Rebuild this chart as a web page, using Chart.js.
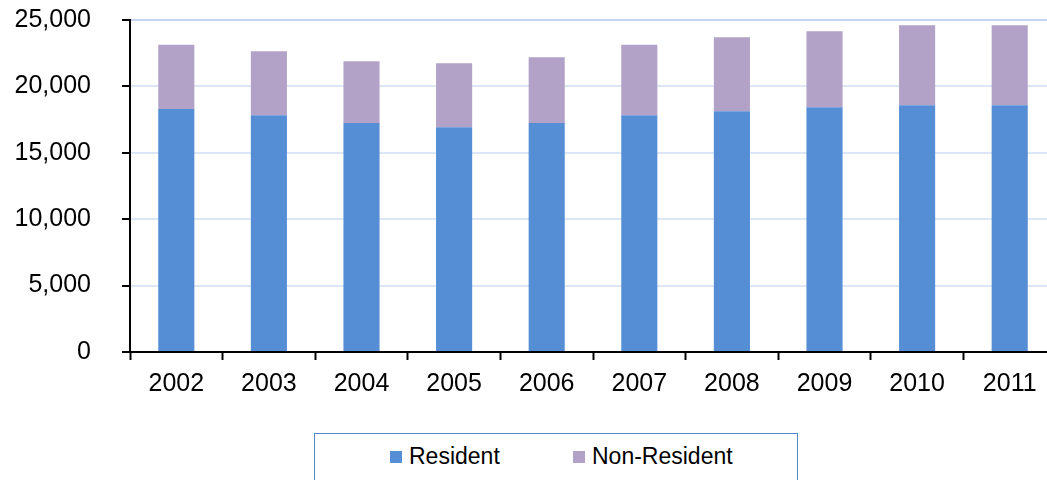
<!DOCTYPE html>
<html>
<head>
<meta charset="utf-8">
<script src="https://cdn.jsdelivr.net/npm/chart.js@4/dist/chart.umd.min.js"></script>
<style>
    html, body { margin: 0; padding: 0; background: #fff; overflow: hidden; }
    #wrap { position: relative; width: 1047px; height: 480px; overflow: hidden; }
    #myChart { position: absolute; left: 0; top: 0; }
    #legendBox {
        position: absolute; left: 314px; top: 433px; width: 482px; height: 60px;
        border: 1.5px solid #5a87c5; background: #fff;
        font-family: 'Liberation Sans', Arial, sans-serif; font-size: 23px; color: #000;
    }
    .swatch { position: absolute; top: 17px; width: 12px; height: 12px; }
    .lbl { position: absolute; top: 11px; line-height: 23px; white-space: nowrap; }
</style>
</head>
<body>
<div id="wrap">
    <canvas id="myChart" width="1056" height="480"></canvas>
    <div id="legendBox"></div>
</div>
<script>
    const years = ['2002', '2003', '2004', '2005', '2006', '2007', '2008', '2009', '2010', '2011'];
    const resident = [18300, 17820, 17250, 16920, 17250, 17820, 18120, 18430, 18580, 18580];
    const nonResident = [4830, 4830, 4650, 4820, 4950, 5310, 5580, 5730, 6020, 6020];
    const yTicks = [0, 5000, 10000, 15000, 20000, 25000];

    const seriesNames = ['Resident', 'Non-Resident'];
    const seriesColors = ['#558ed5', '#b3a2c7'];

    function chart(){
        const ctx = document.getElementById('myChart');
        new Chart(ctx, {
            type: 'bar',
            data: {
                labels: years,
                datasets: [{
                    label: seriesNames[0],
                    data: resident,
                    backgroundColor: seriesColors[0],
                    borderWidth: 0
                }, {
                    label: seriesNames[1],
                    data: nonResident,
                    backgroundColor: seriesColors[1],
                    borderWidth: 0
                }]
            },
            options: {
                responsive: false,
                animation: false,
                devicePixelRatio: 1,
                categoryPercentage: 1,
                barPercentage: 0.39,
                layout: { padding: { top: 20, right: 0, bottom: 80, left: 0 } },
                plugins: {
                    legend: { display: false },
                    tooltip: { enabled: false }
                },
                scales: {
                    x: {
                        stacked: true,
                        afterFit: function(scale){
                            scale.height = 48;
                            scale.paddingLeft = 0;
                            scale.paddingRight = 0;
                        },
                        border: { display: true, color: '#000', width: 2 },
                        grid: {
                            offset: true,
                            drawOnChartArea: false,
                            drawTicks: true,
                            tickLength: 8,
                            tickColor: '#000',
                            tickWidth: 2
                        },
                        ticks: {
                            color: '#000',
                            padding: 9,
                            font: { family: "'Liberation Sans', Arial, sans-serif", size: 25 }
                        }
                    },
                    y: {
                        stacked: true,
                        min: yTicks[0],
                        max: yTicks[yTicks.length - 1],
                        afterFit: function(scale){
                            scale.width = 130;
                            scale.paddingTop = 0;
                            scale.paddingBottom = 0;
                        },
                        afterBuildTicks: function(scale){
                            scale.ticks = yTicks.map(v => ({ value: v }));
                        },
                        border: { display: true, color: '#000', width: 2 },
                        grid: {
                            color: function(c){ return c.tick && c.tick.value === 25000 ? '#c5d4ef' : '#dde6f6'; },
                            lineWidth: 2,
                            drawTicks: true,
                            tickLength: 8,
                            tickColor: '#000',
                            tickWidth: 2
                        },
                        ticks: {
                            color: '#000',
                            padding: 31,
                            font: { family: "'Liberation Sans', Arial, sans-serif", size: 25 },
                            callback: function(v){ return Number(v).toLocaleString('en-US'); }
                        }
                    }
                }
            }
        });
    }

    function legend(){
        const box = document.getElementById('legendBox');
        const offsets = [75, 258];
        seriesNames.forEach(function(name, i){
            const sw = document.createElement('div');
            sw.className = 'swatch';
            sw.style.left = offsets[i] + 'px';
            sw.style.background = seriesColors[i];
            box.appendChild(sw);
            const t = document.createElement('span');
            t.className = 'lbl';
            t.style.left = (offsets[i] + 19) + 'px';
            t.textContent = name;
            box.appendChild(t);
        });
    }

    chart();
    legend();
</script>
</body>
</html>
